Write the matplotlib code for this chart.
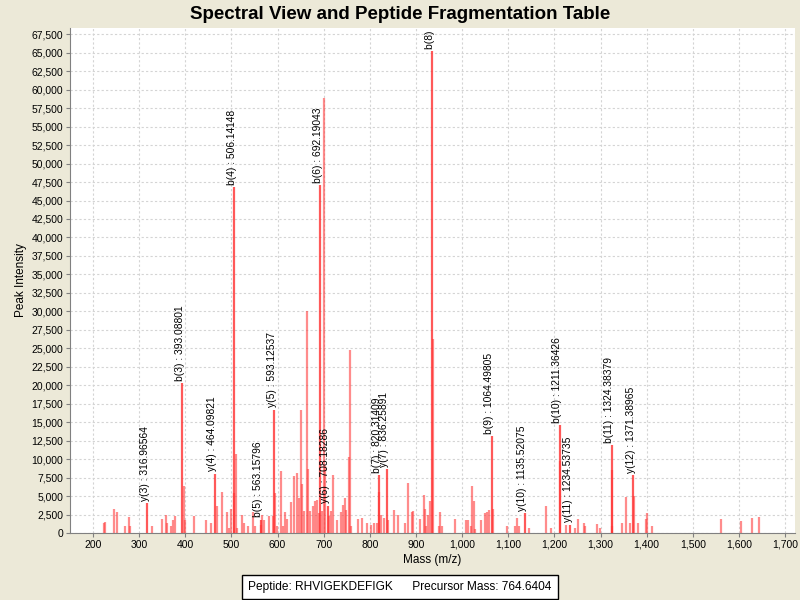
import matplotlib
matplotlib.use('Agg')
import matplotlib.pyplot as plt
from matplotlib.ticker import FuncFormatter, MultipleLocator
from matplotlib.transforms import offset_copy

plt.rcParams['font.family'] = ['Liberation Sans', 'DejaVu Sans']

# annotated fragment ions
ion_names = ['y(3)', 'b(3)', 'y(4)', 'b(4)', 'b(5)', 'y(5)', 'b(6)', 'y(6)', 'b(7)', 'y(7)',
             'b(8)', 'b(9)', 'y(10)', 'b(10)', 'y(11)', 'b(11)', 'y(12)']
ion_mz = [316.96564, 393.08801, 464.09821, 506.14148, 563.15796, 593.12537, 692.19043,
          708.18286, 820.31409, 836.25891, 934.91, 1064.49805, 1135.52075, 1211.36426,
          1234.53735, 1324.38379, 1371.38965]
ion_intensity = [4000, 20300, 8000, 46800, 1800, 16700, 47100, 3700, 7800, 8600,
                 65200, 13100, 2700, 14600, 1100, 11900, 7800]

# other peaks
peak_mz = [223, 225, 245, 252, 270, 277, 280, 328, 350, 359, 361, 369, 373, 377,
           397, 399, 418, 444, 456, 469, 480, 491, 494, 499, 506, 509, 513, 522,
           527, 536, 546, 551, 563, 567, 571, 581, 589, 594, 599, 608, 611, 617,
           621, 628, 635, 643, 646, 651, 653, 658, 664, 666, 670, 677, 681, 686,
           689, 697, 701.5, 703.5, 712, 716, 721, 728, 737, 741, 746, 749, 754,
           757, 760, 775, 784, 793, 802, 809, 816, 820.8, 825, 830, 840, 853, 860,
           877, 883, 891, 893, 909, 917, 919, 921, 927, 931, 935.8, 949, 951, 957,
           984, 1008, 1013, 1019, 1022, 1025, 1028, 1041, 1049, 1055, 1058, 1066,
           1097, 1115, 1119, 1123, 1144, 1182, 1193, 1212.5, 1226, 1244, 1252,
           1265, 1267, 1293, 1298, 1325.5, 1324, 1347, 1356, 1363, 1372.5, 1381,
           1398, 1400, 1412, 1562, 1605, 1629, 1643]
peak_intensity = [1400, 1500, 3200, 2900, 1000, 2150, 1000, 1000, 1900, 2400, 1300,
                  900, 1700, 2300, 6300, 1700, 2300, 1800, 1300, 3600, 5600, 2900,
                  700, 3300, 5400, 10700, 700, 2500, 1400, 1000, 2900, 900, 1100,
                  2400, 1700, 2300, 2300, 5400, 1000, 8400, 900, 2900, 1900, 4200,
                  7700, 8100, 4700, 16700, 6600, 3000, 30100, 8600, 3000, 3700, 4300,
                  4400, 2700, 3000, 58850, 9000, 2300, 3000, 7900, 1800, 2900, 3800,
                  4700, 3100, 10300, 24700, 1000, 1900, 2000, 1300, 1100, 1300, 1300,
                  5600, 2400, 2000, 1800, 3100, 2400, 1400, 6800, 2900, 3000, 1850,
                  5200, 3200, 900, 2400, 4300, 26200, 900, 2800, 900, 1850, 1800,
                  1700, 900, 6300, 4300, 600, 1800, 2700, 2800, 3100, 3200, 900, 1000,
                  2000, 900, 700, 3600, 700, 9800, 1100, 700, 1850, 1300, 1000, 1200,
                  700, 8500, 900, 1400, 4900, 1300, 5000, 1300, 1850, 2700, 1000,
                  1850, 1600, 2000, 2100]

peptide = 'RHVIGEKDEFIGK'
precursor = 764.6404

fig = plt.figure(figsize=(8, 6), dpi=100, facecolor='#ece9d8')
ax = fig.add_axes([0.0875, 0.1117, 0.9065, 0.8416])
ax.set_facecolor('white')

ax.vlines(peak_mz, 0, peak_intensity, colors='#ff4040', alpha=0.6, linewidth=1.6)
ax.vlines(ion_mz, 0, ion_intensity, colors='#ff3030', alpha=0.8, linewidth=1.6)

# labels sit just above each peak, clipped at the top of the plot
label_trans = offset_copy(ax.transData, fig=fig, x=-2.5, y=2.5, units='dots')
for name, mz, inten in zip(ion_names, ion_mz, ion_intensity):
    ax.text(mz, inten, '{} : {}'.format(name, mz), transform=label_trans,
            rotation=90, ha='center', va='bottom', fontsize=7.4, clip_on=True)

ax.set_xlim(150, 1722)
ax.set_ylim(0, 68350)
ax.xaxis.set_major_locator(MultipleLocator(100))
ax.yaxis.set_major_locator(MultipleLocator(2500))
fmt = FuncFormatter(lambda v, p: '{:,.0f}'.format(v))
ax.xaxis.set_major_formatter(fmt)
ax.yaxis.set_major_formatter(fmt)
ax.tick_params(labelsize=7.5, length=3, color='#808080', pad=2)

ax.grid(True, color='#d4d4d4', linestyle=(0, (2, 2)), linewidth=0.8)
ax.set_axisbelow(True)
for s in ['top', 'right']:
    ax.spines[s].set_visible(False)
for s in ['left', 'bottom']:
    ax.spines[s].set_color('#808080')

ax.set_xlabel('Mass (m/z)', fontsize=8.5, labelpad=3)
ax.set_ylabel('Peak Intensity', fontsize=8.5, labelpad=3)
fig.suptitle('Spectral View and Peptide Fragmentation Table', fontsize=13.5,
             fontweight='bold', y=0.99)

fig.text(0.5, 0.022, 'Peptide: {}      Precursor Mass: {}'.format(peptide, precursor),
         ha='center', va='center', fontsize=8.6,
         bbox=dict(facecolor='white', edgecolor='black', boxstyle='square,pad=0.5',
                   linewidth=1))

fig.savefig('out.png', dpi=100, facecolor=fig.get_facecolor())
